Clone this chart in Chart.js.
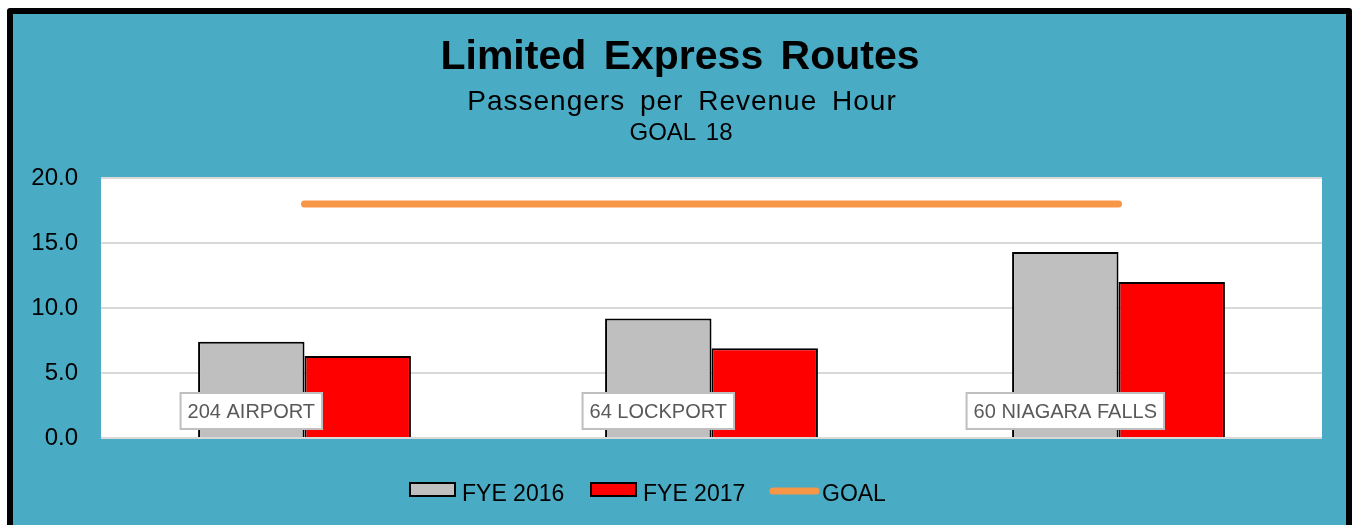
<!DOCTYPE html>
<html>
<head>
<meta charset="utf-8">
<script src="https://cdn.jsdelivr.net/npm/chart.js@4/dist/chart.umd.min.js"></script>
<style>
  html, body { margin: 0; padding: 0; background: #ffffff; width: 1354px; height: 525px; overflow: hidden; }
  #frame {
    position: absolute; left: 7px; top: 8px; width: 1345px; height: 540px;
    box-sizing: border-box; border: 6px solid #000; border-radius: 3px;
    background: #4aabc5;
  }
  #wrap { position: absolute; left: 0; top: 0; width: 1354px; height: 525px; }
</style>
</head>
<body>
<div id="frame"></div>
<div id="wrap"><canvas id="chart" width="1354" height="525"></canvas></div>
<script>
// --- DATOS ---
const routes = ['204 AIRPORT', '64 LOCKPORT', '60 NIAGARA FALLS'];
const fye2016 = [7.4, 9.2, 14.3];
const fye2017 = [6.3, 6.9, 12.0];
const goal = [18, 18, 18];
const yTicks = [0, 5, 10, 15, 20];

const FONT = '"Liberation Sans", Arial, sans-serif';

// fondo blanco del area de trazado
const plotBg = {
  id: 'plotBg',
  beforeDraw(chart) {
    const a = chart.chartArea, ctx = chart.ctx;
    ctx.save();
    ctx.fillStyle = '#ffffff';
    ctx.fillRect(a.left, a.top, a.right - a.left, a.bottom - a.top);
    ctx.restore();
  }
};

// titulos
const titles = {
  id: 'titles',
  afterDraw(chart) {
    const ctx = chart.ctx;
    ctx.save();
    ctx.fillStyle = '#000';
    ctx.textAlign = 'center';
    ctx.textBaseline = 'alphabetic';
    ctx.wordSpacing = '6px';
    ctx.font = 'bold 41px ' + FONT;
    ctx.fillText('Limited Express Routes', 680, 69);
    ctx.letterSpacing = '1px';
    ctx.font = '28px ' + FONT;
    ctx.fillText('Passengers per Revenue Hour', 682, 110);
    ctx.letterSpacing = '0px';
    ctx.wordSpacing = '3px';
    ctx.font = '24px ' + FONT;
    ctx.fillText('GOAL 18', 681, 140);
    ctx.restore();
  }
};

// etiquetas de ruta sobre la barra gris
const routeLabels = {
  id: 'routeLabels',
  afterDatasetsDraw(chart) {
    const ctx = chart.ctx;
    const meta = chart.getDatasetMeta(0);
    const y0 = chart.scales.y.getPixelForValue(0);
    ctx.save();
    ctx.font = '20px ' + FONT;
    ctx.textAlign = 'center';
    ctx.textBaseline = 'middle';
    meta.data.forEach((bar, i) => {
      const txt = chart.data.labels[i];
      const w = ctx.measureText(txt).width + 14;
      const h = 36;
      const cy = y0 - 27;
      ctx.fillStyle = '#ffffff';
      ctx.fillRect(bar.x - w / 2, cy - h / 2, w, h);
      ctx.strokeStyle = '#bfbfbf';
      ctx.lineWidth = 2;
      ctx.strokeRect(bar.x - w / 2, cy - h / 2, w, h);
      ctx.fillStyle = '#595959';
      ctx.fillText(txt, bar.x, cy + 1);
    });
    ctx.restore();
  }
};

// leyenda
const legendBox = {
  id: 'legendBox',
  afterDraw(chart) {
    const ctx = chart.ctx;
    const ds = chart.data.datasets;
    const starts = [410, 591, 770];
    ctx.save();
    ctx.font = '23px ' + FONT;
    ctx.textBaseline = 'alphabetic';
    ds.forEach((d, i) => {
      const x = starts[i];
      if (d.type === 'line') {
        ctx.strokeStyle = d.borderColor;
        ctx.lineWidth = 7;
        ctx.lineCap = 'round';
        ctx.beginPath();
        ctx.moveTo(x + 3, 491);
        ctx.lineTo(x + 46, 491);
        ctx.stroke();
      } else {
        ctx.fillStyle = d.backgroundColor;
        ctx.fillRect(x, 483, 45, 13);
        ctx.strokeStyle = '#000';
        ctx.lineWidth = 2;
        ctx.strokeRect(x, 483, 45, 13);
      }
      ctx.fillStyle = '#000';
      ctx.fillText(d.label, x + 52, 501);
    });
    ctx.restore();
  }
};

new Chart(document.getElementById('chart'), {
  data: {
    labels: routes,
    datasets: [
      { type: 'bar', label: 'FYE 2016', data: fye2016, backgroundColor: '#bfbfbf',
        borderColor: '#000', borderWidth: 2, categoryPercentage: 0.523, barPercentage: 1, order: 2 },
      { type: 'bar', label: 'FYE 2017', data: fye2017, backgroundColor: '#ff0000',
        borderColor: '#000', borderWidth: 2, categoryPercentage: 0.523, barPercentage: 1, order: 2 },
      { type: 'line', label: 'GOAL', data: goal, borderColor: '#f79646', borderWidth: 7,
        borderCapStyle: 'round', pointRadius: 0, fill: false, order: 1 }
    ]
  },
  options: {
    responsive: false,
    animation: false,
    layout: { padding: { left: 0, right: 32, top: 178, bottom: 87 } },
    plugins: { legend: { display: false }, title: { display: false }, tooltip: { enabled: false } },
    scales: {
      x: { display: false, offset: true },
      y: {
        min: 0, max: 20,
        afterFit(scale) { scale.width = 101; },
        afterBuildTicks(scale) { scale.ticks = yTicks.map(v => ({ value: v })); },
        border: { display: false },
        grid: { color: '#d9d9d9', lineWidth: 2, drawTicks: false },
        ticks: { padding: 23, color: '#000', font: { family: FONT, size: 24 },
          callback: v => v.toFixed(1) }
      }
    }
  },
  plugins: [plotBg, titles, routeLabels, legendBox]
});
</script>
</body>
</html>
